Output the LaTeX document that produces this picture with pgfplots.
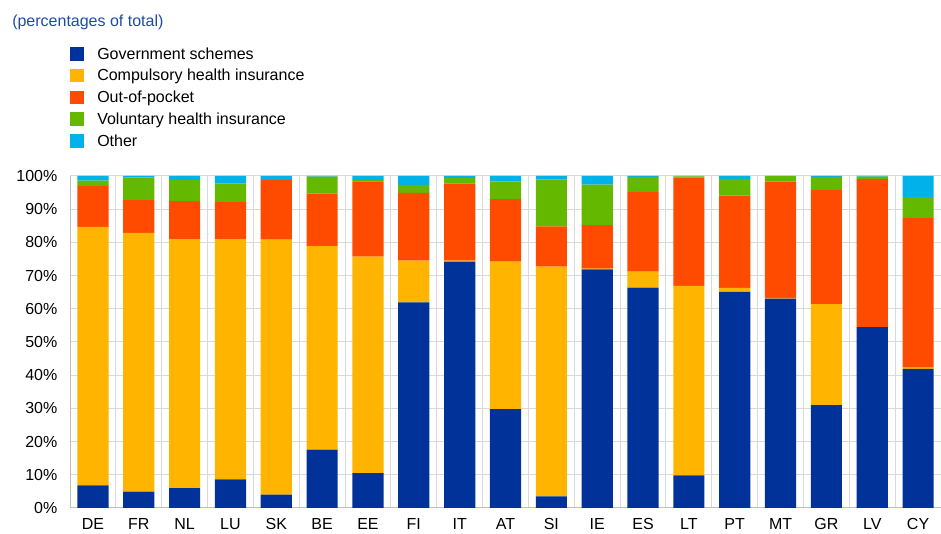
\documentclass[border=0pt]{standalone}
\usepackage{fontspec}
\setmainfont{Liberation Sans}
\usepackage{pgfplots}
\usepackage{pgfplotstable}
\pgfplotsset{compat=1.18}
\definecolor{cgov}{HTML}{003299}
\definecolor{ccomp}{HTML}{FFB400}
\definecolor{coop}{HTML}{FF4B00}
\definecolor{cvol}{HTML}{65B800}
\definecolor{coth}{HTML}{00B1EA}
\definecolor{ctitle}{HTML}{1E4BA8}
\definecolor{cgrid}{HTML}{D9D9D9}
\definecolor{caxis}{HTML}{BFBFBF}
\pgfplotstableread{
x gov comp oop vol oth
0 6.8 77.9 12.3 1.6 1.4
1 4.9 78.0 9.8 6.8 0.5
2 6.0 75.0 11.4 6.4 1.2
3 8.6 72.4 11.1 5.6 2.3
4 4.0 76.8 18.0 0.0 1.2
5 17.6 61.3 15.8 5.1 0.2
6 10.5 65.2 22.7 0.4 1.2
7 61.9 12.6 20.4 2.4 2.7
8 74.2 0.3 23.2 1.7 0.6
9 29.8 44.4 18.8 5.4 1.6
10 3.5 69.2 12.1 14.1 1.1
11 71.9 0.2 13.1 12.2 2.6
12 66.4 4.8 24.0 4.5 0.3
13 9.8 57.1 32.6 0.4 0.1
14 65.1 1.2 27.8 5.0 0.9
15 63.1 0.2 35.0 1.7 0.0
16 31.0 30.4 34.4 3.9 0.3
17 54.5 0.0 44.6 0.7 0.2
18 41.9 0.4 45.0 6.3 6.4
}\datatable
\begin{document}
\begin{tikzpicture}[x=1pt,y=1pt,font=\fontsize{12}{14}\selectfont]
\useasboundingbox (0,0) rectangle (705.75,400.5);
\node[anchor=west, text=ctitle, inner sep=0pt] at (9,384) {(percentages of total)};
\begin{axis}[
  at={(52.5pt,19.5pt)}, anchor=south west,
  scale only axis, width=653.25pt, height=249pt,
  ybar stacked, bar width=0.68,
  xmin=-0.5, xmax=18.5, ymin=0, ymax=100,
  xtick={0,...,18},
  xticklabels={DE,FR,NL,LU,SK,BE,EE,FI,IT,AT,SI,IE,ES,LT,PT,MT,GR,LV,CY},
  minor xtick={-0.5,0.5,...,18.5},
  ytick={0,10,...,100},
  yticklabel={\pgfmathprintnumber{\tick}\%},
  /pgf/number format/assume math mode=true,
  major tick length=0pt, minor tick length=0pt,
  ymajorgrids, xminorgrids,
  grid style={draw=cgrid, line width=0.75pt},
  minor grid style={draw=cgrid, line width=0.75pt},
  axis lines=left,
  axis line style={-, draw=caxis, line width=0.75pt},
  yticklabel style={xshift=-6pt},
  xticklabel style={yshift=-4pt},
  legend cell align=left,
  legend style={draw=none, fill=none, at={(axis description cs:0,1)}, anchor=north west,
    yshift=96.75pt, xshift=0pt, inner sep=0pt, row sep=4.3pt, column sep=9.75pt,
    nodes={inner sep=0pt, text height=9pt, text depth=3pt}},
  legend image code/.code={\fill[#1] (0pt,-4pt) rectangle (10.5pt,6pt);},
]
\addplot[fill=cgov, draw=none] table[x=x,y=gov]{\datatable};
\addlegendentry{Government schemes}
\addplot[fill=ccomp, draw=none] table[x=x,y=comp]{\datatable};
\addlegendentry{Compulsory health insurance}
\addplot[fill=coop, draw=none] table[x=x,y=oop]{\datatable};
\addlegendentry{Out-of-pocket}
\addplot[fill=cvol, draw=none] table[x=x,y=vol]{\datatable};
\addlegendentry{Voluntary health insurance}
\addplot[fill=coth, draw=none] table[x=x,y=oth]{\datatable};
\addlegendentry{Other}
\end{axis}
\end{tikzpicture}
\end{document}
